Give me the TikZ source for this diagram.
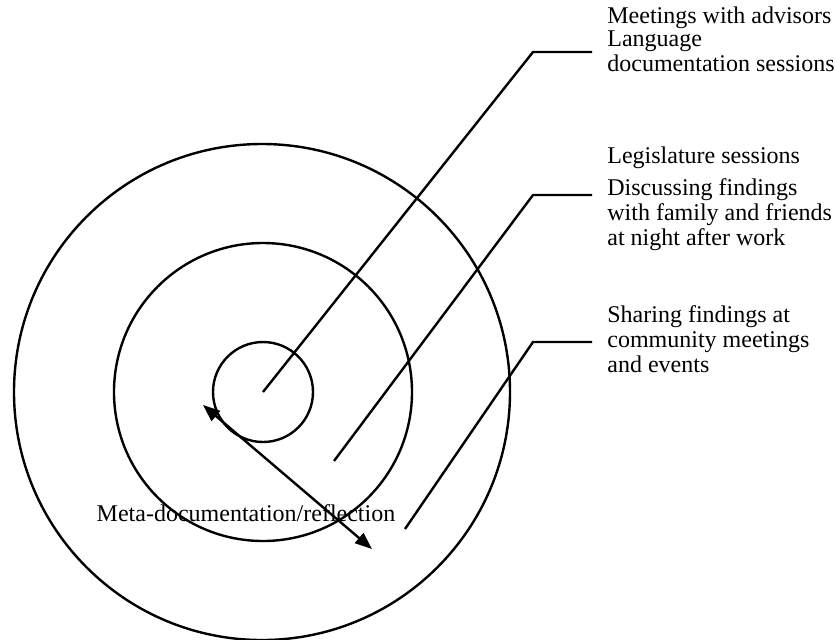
\documentclass[tikz,border=0pt]{standalone}
\usepackage{fontspec}
\setmainfont{Liberation Serif}
\usetikzlibrary{arrows.meta}

\begin{document}
\begin{tikzpicture}[x=0.5pt, y=-0.5pt,
  ring/.style={circle, draw, line width=1.2pt, inner sep=0pt},
  lead/.style={line width=1.2pt},
  lbl/.style={anchor=base west, align=left, inner sep=0pt, font=\fontsize{12}{12.4}\selectfont}]
 \useasboundingbox (0,0) rectangle (836,639);

 \node[ring, minimum size=248pt] (outer) at (262,392) {};
 \node[ring, minimum size=149pt] (middle) at (263,392) {};
 \node[ring, minimum size=50pt] (inner) at (263,392) {};

 \coordinate (B) at (334,461);
 \coordinate (C) at (405,529);
 \coordinate (kA) at (533,52);
 \coordinate (kB) at (533,195);
 \coordinate (kC) at (533,342);
 \coordinate (eA) at (592,52);
 \coordinate (eB) at (592,195);
 \coordinate (eC) at (592,342);

 % base anchor sits on the last line
 \node[lbl] (meet) at (607,23) {Meetings with advisors};
 \node[lbl] (lang) at (607,71) {Language\\documentation sessions};
 \node[lbl] (legis) at (607,163) {Legislature sessions};
 \node[lbl] (disc) at (607,245) {Discussing findings\\with family and friends\\at night after work};
 \node[lbl] (share) at (607,372) {Sharing findings at\\community meetings\\and events};

 \draw[lead] (inner.center) -- (kA) -- (eA);
 \draw[lead] (B) -- (kB) -- (eB);
 \draw[lead] (C) -- (kC) -- (eC);

 \coordinate (mA) at (203,405);
 \coordinate (mB) at (372,549);
 \draw[lead, {Triangle[length=8.5pt,width=6.5pt]}-{Triangle[length=8.5pt,width=6.5pt]}] (mA) -- (mB);
 \node[anchor=base, inner sep=0pt, font=\fontsize{12}{12.4}\selectfont] (meta) at (246,521) {Meta-documentation/reflection};

\end{tikzpicture}
\end{document}
